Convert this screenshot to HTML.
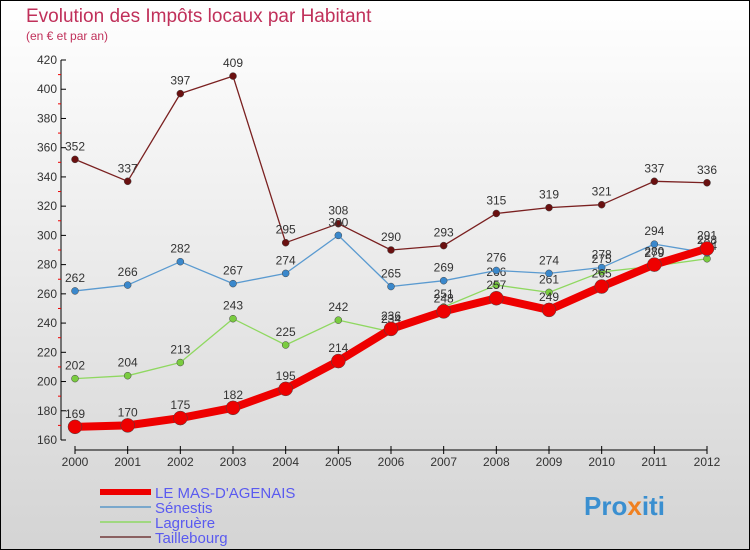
<!DOCTYPE html>
<html><head><meta charset="utf-8"><style>
body{margin:0;width:750px;height:550px;overflow:hidden}
svg{display:block;font-family:"Liberation Sans",sans-serif}
</style></head><body>
<svg id="c" width="750" height="550">
<defs><linearGradient id="bg" x1="0" y1="0" x2="0" y2="1"><stop offset="0" stop-color="#ffffff"/><stop offset="1" stop-color="#d4d4d4"/></linearGradient></defs>
<rect x="0.5" y="0.5" width="749" height="549" fill="url(#bg)" stroke="#000"/>
<text x="26" y="22" font-size="19" fill="#c0305a">Evolution des Impôts locaux par Habitant</text>
<text x="26" y="40" font-size="12" fill="#c0305a">(en € et par an)</text>
<g id="axes"></g><g id="series"></g><g id="legend"></g>
<text x="584" y="515" font-size="26" font-weight="bold" fill="#3a8fd0">Pro<tspan fill="#f08020">x</tspan>iti</text>
</svg>
<script>
const years=[2000,2001,2002,2003,2004,2005,2006,2007,2008,2009,2010,2011,2012];
const yTicks=[160,180,200,220,240,260,280,300,320,340,360,380,400,420];
const mas=[169,170,175,182,195,214,236,248,257,249,265,280,291];
const senestis=[262,266,282,267,274,300,265,269,276,274,278,294,288];
const lagruere=[202,204,213,243,225,242,234,251,266,261,275,279,284];
const taillebourg=[352,337,397,409,295,308,290,293,315,319,321,337,336];
const NS='http://www.w3.org/2000/svg';
const xs=i=>75+i*(707-75)/12;
const ys=v=>440-(v-160)*(380/260);
function mk(p,t,a){const e=document.createElementNS(NS,t);for(const k in a)e.setAttribute(k,a[k]);p.appendChild(e);return e;}
const ax=document.getElementById('axes');
let yl=mk(ax,'line',{x1:61,y1:60,x2:61,y2:440,stroke:'#000'});


let xl=mk(ax,'line',{x1:75,y1:450,x2:707,y2:450,stroke:'#000'});


yTicks.forEach((v,i)=>{
  mk(ax,'line',{x1:61,y1:ys(v),x2:66,y2:ys(v),stroke:'#000'});
  if(i<yTicks.length-1)mk(ax,'line',{x1:58,y1:ys(v+10),x2:61,y2:ys(v+10),stroke:'#e00'});
  const t=mk(ax,'text',{x:57,y:ys(v)+4,'font-size':12,'text-anchor':'end',fill:'#333'});
  t.textContent=v;
  
  
});
years.forEach((y,i)=>{
  mk(ax,'line',{x1:xs(i),y1:446,x2:xs(i),y2:454,stroke:'#000'});
  const t=mk(ax,'text',{x:xs(i),y:466,'font-size':12,'text-anchor':'middle',fill:'#333'});
  t.textContent=y;
  
  
});
const sg=document.getElementById('series');
const defs=[
 {d:taillebourg,c:'#7a2020',f:'#6a1010',w:1.3,r:3.5,n:'taillebourg'},
 {d:lagruere,c:'#8fd860',f:'#7acc40',w:1.3,r:3.5,n:'lagruere'},
 {d:senestis,c:'#5a9ad0',f:'#3a88cc',w:1.3,r:3.5,n:'senestis'},
 {d:mas,c:'#ee0000',f:'#ee0000',w:8,r:7,n:'le-mas-dagenais'}];
defs.forEach(s=>{
  const g=mk(sg,'g',{});
  
  
  const p=mk(g,'polyline',{points:s.d.map((v,i)=>xs(i)+','+ys(v)).join(' '),fill:'none',stroke:s.c,'stroke-width':s.w,'stroke-linejoin':'round'});
  
  
  s.d.forEach((v,i)=>{
    const c=mk(g,'circle',{cx:xs(i),cy:ys(v),r:s.r,fill:s.f,stroke:'#444','stroke-width':0.5});
    
    
    const t=mk(g,'text',{x:xs(i),y:ys(v)-9,'font-size':12,'text-anchor':'middle',fill:'#333'});
    t.textContent=v;
    
    
  });
});
const lg=document.getElementById('legend');
const legs=[['LE MAS-D\'AGENAIS','#ee0000',6],['Sénestis','#7aa8cc',2],['Lagruère','#a0d880',2],['Taillebourg','#8a6060',2]];
legs.forEach((l,i)=>{
  const y=492+i*15;
  const e=mk(lg,'g',{});
  
  
  mk(e,'line',{x1:100,y1:y,x2:151,y2:y,stroke:l[1],'stroke-width':l[2]});
  const t=mk(e,'text',{x:155,y:y+6,'font-size':15,fill:'#5a5af0'});
  t.textContent=l[0];
});
</script>
</body></html>
